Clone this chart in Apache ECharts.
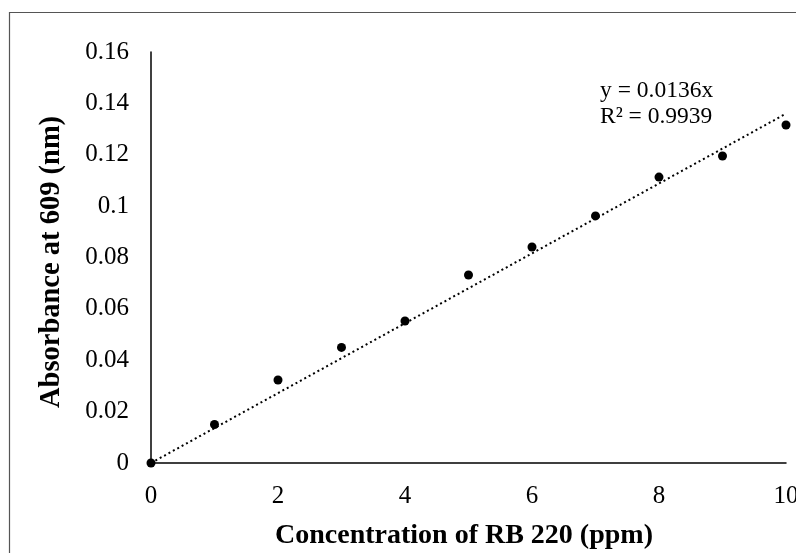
<!DOCTYPE html>
<html>
<head>
<meta charset="utf-8">
<script src="https://cdn.jsdelivr.net/npm/echarts@6/dist/echarts.min.js"></script>
<style>
html,body{margin:0;padding:0;background:#fff;}
#chart{width:796px;height:553px;}
</style>
</head>
<body>
<div id="chart"></div>
<script>
var concentration = [0, 1, 2, 3, 4, 5, 6, 7, 8, 9, 10];
var absorbance = [0, 0.0150, 0.0323, 0.0450, 0.0553, 0.0732, 0.0841, 0.0962, 0.1113, 0.1195, 0.1316];
var trendX = [0, 10];
var trendY = [0, 0.136];
var equationLines = ['y = 0.0136x', 'R² = 0.9939'];
var xTitle = 'Concentration of RB 220 (ppm)';
var yTitle = 'Absorbance at 609 (nm)';

var FONT = '"Liberation Serif", "Times New Roman", serif';
var chart = echarts.init(document.getElementById('chart'), null, {renderer: 'canvas'});

var points = concentration.map(function (c, i) { return [c, absorbance[i]]; });
var trend = trendX.map(function (c, i) { return [c, trendY[i]]; });

chart.setOption({
  animation: false,
  backgroundColor: '#fff',
  grid: {left: 151, top: 52, right: 10, bottom: 90, containLabel: false, outerBoundsMode: 'none'},
  xAxis: {
    type: 'value', min: 0, max: 10, interval: 2,
    axisLine: {show: true, lineStyle: {color: '#000', width: 1.5}},
    axisTick: {show: false},
    splitLine: {show: false},
    axisLabel: {color: '#000', fontFamily: FONT, fontSize: 25, margin: 21, hideOverlap: false}
  },
  yAxis: {
    type: 'value', min: 0, max: 0.16, interval: 0.02,
    axisLine: {show: true, onZero: false, lineStyle: {color: '#000', width: 1.5}},
    axisTick: {show: false},
    splitLine: {show: false},
    axisLabel: {color: '#000', fontFamily: FONT, fontSize: 25, margin: 22,
      formatter: function (v) { return String(+v.toFixed(2)); }}
  },
  graphic: [
    {type: 'rect', silent: true, z: -10,
      shape: {x: 9.5, y: 12.5, width: 900, height: 700},
      style: {fill: 'none', stroke: '#555', lineWidth: 1.2}},
    {type: 'text', left: 275, top: 522,
      style: {text: xTitle, font: 'bold 28px ' + FONT, fill: '#000'}},
    {type: 'text', rotation: Math.PI / 2, x: 37, y: 408, origin: [0, 0],
      style: {text: yTitle, font: 'bold 28.5px ' + FONT, fill: '#000', textAlign: 'left', textVerticalAlign: 'top'}},
    {type: 'text', left: 600, top: 78,
      style: {text: equationLines.join('\n'), font: '23.5px ' + FONT, fill: '#000', lineHeight: 26}}
  ],
  series: [
    {type: 'line', data: trend, symbol: 'none', silent: true,
      lineStyle: {color: '#000', width: 2, type: [2, 3]}, z: 1},
    {type: 'scatter', data: points, symbol: 'circle', symbolSize: 9,
      itemStyle: {color: '#000', opacity: 1}, z: 3}
  ]
});
</script>
</body>
</html>
